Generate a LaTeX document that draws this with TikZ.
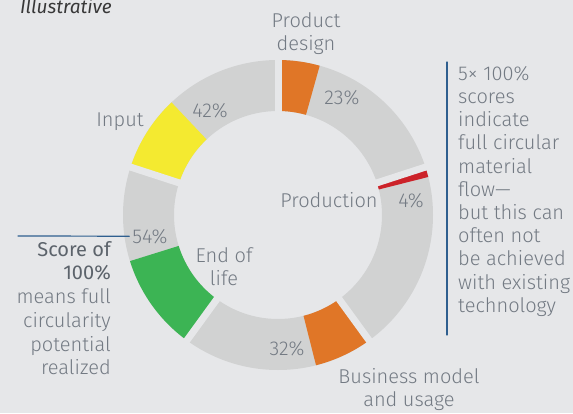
\documentclass[tikz,border=0pt]{standalone}
\usepackage{fontspec}
\setmainfont{Fira Sans}[UprightFont=* Light, ItalicFont=* Italic, BoldFont=*]
\definecolor{bggray}{HTML}{E6E7E9}
\definecolor{ringgray}{HTML}{D1D2D2}
\definecolor{txtgray}{HTML}{737A83}
\definecolor{darkgray}{HTML}{5C636B}
\definecolor{noteblue}{HTML}{2F5F8F}
\definecolor{pdorange}{HTML}{E07627}
\definecolor{prodred}{HTML}{CC2229}
\definecolor{eolgreen}{HTML}{3CB454}
\definecolor{inyellow}{HTML}{F4EA30}
\newcommand\rout{155}
\newcommand\rin{104}
\newcommand\ringpart[3]{%
	\fill[#3]	(#1:\rout) arc[start angle=#1, end angle=#2, radius=\rout]
			-- (#2:\rin) arc[start angle=#2, end angle=#1, radius=\rin] -- cycle;}
\tikzset{
	lbl/.style	= {text=txtgray, inner sep=0pt, font=\fontsize{20}{23.5}\selectfont},
	blueline/.style	= {draw=noteblue, line width=1.2pt},
}
\begin{document}
\begin{tikzpicture}[
		x = 1pt,
		y = 1pt,
		line join = round,
		line cap = round,
		> = latex,
		]
\fill[bggray]	(0,0) rectangle (573,413);
\useasboundingbox	(0,0) rectangle (573,413);
\begin{scope}[shift={(278,198)}]
\fill[ringgray, even odd rule]	(0,0) circle[radius=\rout] (0,0) circle[radius=\rin];
\foreach \b/\e/\c in {90/74.4/pdorange, 18/14.2/prodred, -54/-75.8/pdorange, -126/-162.7/eolgreen, -198/-226.6/inyellow}{
	\ringpart{\b}{\e}{\c}
	\draw[bggray, line width=7pt, line cap=butt]	(\b:\rin-6) -- (\b:\rout+6);
}
\end{scope}
\node[lbl, anchor=base west, text=black!78, font=\fontsize{19}{22}\selectfont\itshape]
	(illus) at (20,399) {Illustrative};
\node[lbl, anchor=north, align=center]	(design) at (306,401) {Product\\design};
\node[lbl, anchor=base]	(input) at (120,286) {Input};
\node[lbl, anchor=base]	(pin) at (210,295) {42\%};
\node[lbl, anchor=base]	(pdesign) at (342,308) {23\%};
\node[lbl, anchor=base]	(production) at (329,206) {Production};
\node[lbl, anchor=base]	(pprod) at (411,206) {4\%};
\node[lbl, anchor=base]	(peol) at (150,170) {54\%};
\node[lbl, anchor=north, align=center]	(eol) at (224,166) {End of\\life};
\node[lbl, anchor=base]	(pbm) at (287,58) {32\%};
\node[lbl, anchor=north, align=center]	(bm) at (409,45) {Business model\\and usage};
\node[lbl, anchor=north east, align=right, font=\fontsize{20}{23.7}\selectfont]
	(score) at (111,172) {\textcolor{darkgray}{\bfseries Score of}\\\textcolor{darkgray}{\bfseries 100\%}\\means full\\circularity\\potential\\realized};
\node[lbl, anchor=north west, align=left, font=\fontsize{20}{23.2}\selectfont]	(note) at (458,347)
	{5× 100\%\\scores\\indicate\\full circular\\material\\flow—\\but this can\\often not\\be achieved\\with existing\\technology};
\coordinate	(scoreline) at (18,177);
\coordinate	(notetop) at (447,351);
\coordinate	(notebot) at (447,78);
\draw[blueline]	(scoreline) -- ([xshift=-3pt]peol.west);
\draw[blueline]	(notetop) -- (notebot);
\end{tikzpicture}
\end{document}
